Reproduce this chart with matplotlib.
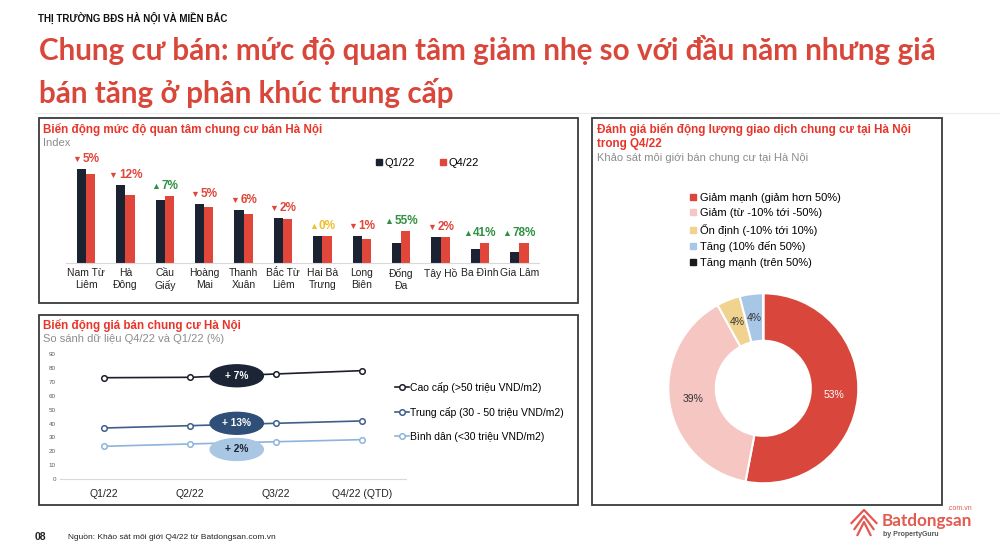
import matplotlib
matplotlib.use("Agg")
import matplotlib.pyplot as plt
import numpy as np
from matplotlib.patches import Rectangle, Ellipse
from matplotlib.lines import Line2D
from matplotlib.offsetbox import AnnotationBbox, HPacker, TextArea

plt.rcParams['font.family'] = ['Liberation Sans', 'DejaVu Sans']

# ---- data ----
districts = ['Nam Từ\nLiêm', 'Hà\nĐông', 'Cầu\nGiấy', 'Hoàng\nMai', 'Thanh\nXuân', 'Bắc Từ\nLiêm',
             'Hai Bà\nTrưng', 'Long\nBiên', 'Đống\nĐa', 'Tây Hồ', 'Ba Đình', 'Gia Lâm']
interest_q1 = [280, 233, 188, 177, 157, 134, 81, 81, 60, 78, 40, 33]
interest_q4 = [266, 203, 200, 166, 147, 131, 81, 72, 94, 76, 59, 60]
change_txt = ['5%', '12%', '7%', '5%', '6%', '2%', '0%', '1%', '55%', '2%', '41%', '78%']
change_dir = ['down', 'down', 'up', 'down', 'down', 'down', 'flat', 'down', 'up', 'down', 'up', 'up']

quarters = ['Q1/22', 'Q2/22', 'Q3/22', 'Q4/22 (QTD)']
price_cao = [73.1, 73.4, 75.8, 78.2]
price_trung = [36.8, 38.5, 40.2, 41.9]
price_binh = [23.6, 25.3, 26.9, 28.4]
segment_names = ['Cao cấp (>50 triệu VND/m2)', 'Trung cấp (30 - 50 triệu VND/m2)', 'Bình dân (<30 triệu VND/m2)']
segment_change = ['+ 7%', '+ 13%', '+ 2%']

deal_labels = ['Giảm mạnh (giảm hơn 50%)', 'Giảm (từ -10% tới -50%)', 'Ổn định (-10% tới 10%)',
               'Tăng (10% đến 50%)', 'Tăng mạnh (trên 50%)']
deal_share = [53, 39, 4, 4, 0]

RED = '#e0463a'
NAVY = '#1b2232'
GREEN = '#2f9141'
YELLOW = '#efc02a'
GRAY = '#8c8c8c'
TITLE_RED = '#d9473b'

W, H = 1000, 557


def fx(x):
    return x / W


def fy(y):
    return 1 - y / H


def box(l, t, r, b):
    return [l / W, 1 - b / H, (r - l) / W, (b - t) / H]


fig = plt.figure(figsize=(10, 5.57), dpi=100)
fig.patch.set_facecolor('white')

# header and title
fig.text(fx(38), fy(18), 'THỊ TRƯỜNG BĐS HÀ NỘI VÀ MIỀN BẮC', fontsize=7, fontweight='bold',
         color='#111111', va='center')
fig.text(fx(39), fy(50), 'Chung cư bán: mức độ quan tâm giảm nhẹ so với đầu năm nhưng giá',
         fontsize=21.3, fontweight='bold', color=TITLE_RED, va='center', family=['Lato', 'DejaVu Sans'])
fig.text(fx(39), fy(93), 'bán tăng ở phân khúc trung cấp',
         fontsize=21.3, fontweight='bold', color=TITLE_RED, va='center', family=['Lato', 'DejaVu Sans'])
fig.add_artist(Line2D([fx(35), fx(1000)], [fy(113), fy(113)], color='#ececec', lw=0.8))

# panel frames
for l, t, r, b in [(39, 118, 578, 303), (39, 315, 578, 505), (592, 118, 942, 505)]:
    fig.add_artist(Rectangle((fx(l), fy(b)), (r - l) / W, (b - t) / H, transform=fig.transFigure,
                             fill=False, ec='#3a3a3a', lw=1.3))

ptitle = dict(fontsize=8.4, fontweight='bold', color='#e8352a', va='center')
psub = dict(fontsize=8, color=GRAY, va='center')

# ---- panel 1: bars ----
fig.text(fx(43), fy(129), 'Biến động mức độ quan tâm chung cư bán Hà Nội', **ptitle)
fig.text(fx(43), fy(143), 'Index', **psub)

ax1 = fig.add_axes(box(66.3, 150, 539, 262.7))
x = np.arange(len(districts))
bw = 0.234
ax1.bar(x - bw / 2, interest_q1, bw, color=NAVY)
ax1.bar(x + bw / 2, interest_q4, bw, color=RED)
ax1.set_xlim(-0.5, 11.5)
ax1.set_ylim(0, 338)
ax1.set_xticks(x)
ax1.set_xticklabels(districts, fontsize=7.5, color='#222222')
ax1.tick_params(axis='x', length=0, pad=4)
ax1.set_yticks([])
for s in ['top', 'right', 'left']:
    ax1.spines[s].set_visible(False)
ax1.spines['bottom'].set_color('#d9d9d9')

for i in range(len(districts)):
    d = change_dir[i]
    if d == 'down':
        sym, col = '▼', RED
    elif d == 'up':
        sym, col = '▲', GREEN
    else:
        sym, col = '▲', YELLOW
    pack = HPacker(children=[TextArea(sym, textprops=dict(fontsize=6.5, color=col)),
                             TextArea(change_txt[i], textprops=dict(fontsize=8.5, fontweight='bold', color=col))],
                   align='baseline', pad=0, sep=1)
    ab = AnnotationBbox(pack, (x[i], max(interest_q1[i], interest_q4[i])), xybox=(0, 3),
                        boxcoords='offset points', box_alignment=(0.5, 0), frameon=False)
    ax1.add_artist(ab)

h1 = [Line2D([], [], ls='none', marker='s', markersize=4, color=NAVY),
      Line2D([], [], ls='none', marker='s', markersize=4, color=RED)]
ax1.legend(h1, ['Q1/22', 'Q4/22'], loc='center', bbox_to_anchor=(fx(427), fy(163)),
           bbox_transform=fig.transFigure, ncol=2, frameon=False, fontsize=8,
           handlelength=0.6, handletextpad=0.2, columnspacing=2.2, borderpad=0)

# ---- panel 2: lines ----
fig.text(fx(43), fy(325), 'Biến động giá bán chung cư Hà Nội', **ptitle)
fig.text(fx(43), fy(339), 'So sánh dữ liệu Q4/22 và Q1/22 (%)', **psub)

ax2 = fig.add_axes(box(60, 354.3, 406, 479))
qx = np.arange(len(quarters))
line_cols = ['#1b1f29', '#3f5f8a', '#8eb4dc']
series = [price_cao, price_trung, price_binh]
for vals, c, name in zip(series, line_cols, segment_names):
    ax2.plot(qx, vals, color=c, lw=1.2, marker='o', markersize=4, markerfacecolor='white',
             markeredgecolor=c, markeredgewidth=1.1, label=name, zorder=3)

ell_cols = ['#1b2536', '#2f4f78', '#a9c6e3']
ell_txt = ['white', 'white', '#1b2232']
ell_y = [74.5, 40.2, 21.3]
for yy, c, tc, t in zip(ell_y, ell_cols, ell_txt, segment_change):
    ax2.add_patch(Ellipse((1.545, yy), 0.62, 15.8, color=c, zorder=4))
    ax2.text(1.545, yy, t, ha='center', va='center', fontsize=7.3, fontweight='bold', color=tc, zorder=5)

ax2.set_xlim(-0.512, 3.515)
ax2.set_ylim(0, 90)
ax2.set_yticks(np.arange(0, 91, 10))
ax2.tick_params(axis='y', length=0, pad=3, labelsize=4.5, labelcolor='#595959')
ax2.set_xticks(qx)
ax2.set_xticklabels(quarters, fontsize=7.5, color='#222222')
ax2.tick_params(axis='x', length=0, pad=7)
for s in ['top', 'right', 'left']:
    ax2.spines[s].set_visible(False)
ax2.spines['bottom'].set_color('#d9d9d9')
ax2.legend(loc='center left', bbox_to_anchor=(fx(390), fy(412)), bbox_transform=fig.transFigure,
           frameon=False, fontsize=7.5, handlelength=1.3, handletextpad=0.1, labelspacing=1.35,
           borderpad=0)

# ---- panel 3: donut ----
fig.text(fx(597), fy(129), 'Đánh giá biến động lượng giao dịch chung cư tại Hà Nội', **ptitle)
fig.text(fx(597), fy(144), 'trong Q4/22', **ptitle)
fig.text(fx(597), fy(158), 'Khảo sát môi giới bán chung cư tại Hà Nội', **psub)

cx, cy, rad = 763.3, 388.3, 95
ax3 = fig.add_axes(box(cx - rad * 1.05, cy - rad * 1.05, cx + rad * 1.05, cy + rad * 1.05))
pie_cols = ['#d9463b', '#f5c6c2', '#f0d38e', '#a8c7e6', '#1b1b1b']
wedges, texts, autotexts = ax3.pie(deal_share, colors=pie_cols, startangle=90, counterclock=False,
                                   autopct=lambda p: '%d%%' % round(p) if p > 0 else '',
                                   pctdistance=0.75, wedgeprops=dict(width=0.5, edgecolor='white', lw=1.5),
                                   textprops=dict(fontsize=7.5, color='#333333'))
autotexts[0].set_color('white')
ax3.set_xlim(-1.05, 1.05)
ax3.set_ylim(-1.05, 1.05)
ax3.set_aspect('equal')

h3 = [Line2D([], [], ls='none', marker='s', markersize=4, color=c) for c in pie_cols]
ax3.legend(h3, deal_labels, loc='upper left', bbox_to_anchor=(fx(684), fy(187)),
           bbox_transform=fig.transFigure, frameon=False, fontsize=8, handlelength=0.6,
           handletextpad=0.3, labelspacing=0.5, borderpad=0)

# ---- footer ----
fig.text(fx(35), fy(537), '08', fontsize=7.5, fontweight='bold', color='#222222', va='center')
fig.text(fx(68), fy(537), 'Nguồn: Khảo sát môi giới Q4/22 từ Batdongsan.com.vn', fontsize=6,
         color='#222222', va='center')
LOGO = '#e25a50'
for dy, half in [(0, 12.5), (6, 9.5), (12, 6.5)]:
    fig.add_artist(Line2D([fx(864 - half), fx(864), fx(864 + half)],
                          [fy(523 + dy), fy(510 + dy), fy(523 + dy)], color=LOGO, lw=1.6))
fig.text(fx(882), fy(521), 'Batdongsan', fontsize=12.3, fontweight='bold', color=LOGO, va='center',
         family=['Lato', 'DejaVu Sans'])
fig.text(fx(972), fy(509), '.com.vn', fontsize=5, color=LOGO, va='center', ha='right')
fig.text(fx(883), fy(534), 'by PropertyGuru', fontsize=5, fontweight='bold', color='#555555', va='center')

fig.savefig('out.png', dpi=100)
